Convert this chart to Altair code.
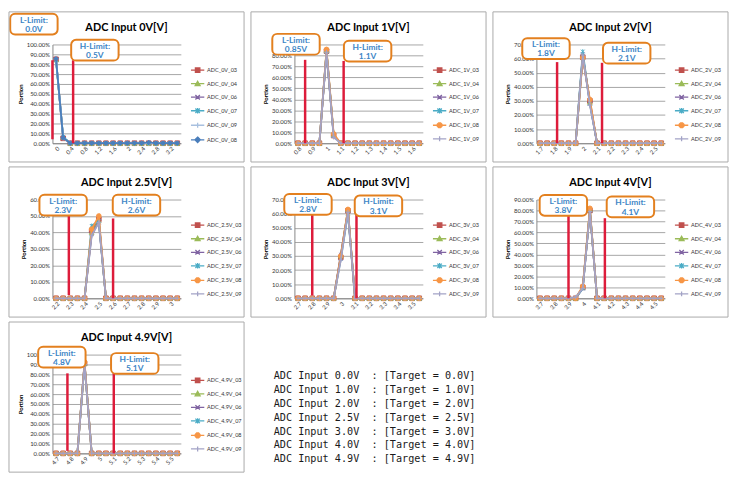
import altair as alt
import pandas as pd

W, H = 130, 100

titles = ["ADC Input 0V[V]", "ADC Input 1V[V]", "ADC Input 2V[V]", "ADC Input 2.5V[V]",
          "ADC Input 3V[V]", "ADC Input 4V[V]", "ADC Input 4.9V[V]"]
tags = ["0V", "1V", "2V", "2.5V", "3V", "4V", "4.9V"]

cats = [
    [0, 0.2, 0.4, 0.6, 0.8, 1.0, 1.2, 1.4, 1.6, 1.8, 2.0, 2.2, 2.4, 2.6, 2.8, 3.0, 3.2, 3.4],
    [0.8, 0.85, 0.9, 0.95, 1.0, 1.05, 1.1, 1.15, 1.2, 1.25, 1.3, 1.35, 1.4, 1.45, 1.5, 1.55, 1.6, 1.65],
    [1.7, 1.75, 1.8, 1.85, 1.9, 1.95, 2.0, 2.05, 2.1, 2.15, 2.2, 2.25, 2.3, 2.35, 2.4, 2.45, 2.5, 2.55],
    [2.2, 2.25, 2.3, 2.35, 2.4, 2.45, 2.5, 2.55, 2.6, 2.65, 2.7, 2.75, 2.8, 2.85, 2.9, 2.95, 3.0, 3.05],
    [2.7, 2.75, 2.8, 2.85, 2.9, 2.95, 3.0, 3.05, 3.1, 3.15, 3.2, 3.25, 3.3, 3.35, 3.4, 3.45, 3.5, 3.55],
    [3.7, 3.75, 3.8, 3.85, 3.9, 3.95, 4.0, 4.05, 4.1, 4.15, 4.2, 4.25, 4.3, 4.35, 4.4, 4.45, 4.5, 4.55],
    [4.7, 4.75, 4.8, 4.85, 4.9, 4.95, 5.0, 5.05, 5.1, 5.15, 5.2, 5.25, 5.3, 5.35, 5.4, 5.45, 5.5, 5.55],
]
tick_labels = [
    [0, 0.4, 0.8, 1.2, 1.6, 2, 2.4, 2.8, 3.2],
    [0.8, 0.9, 1, 1.1, 1.2, 1.3, 1.4, 1.5, 1.6],
    [1.7, 1.8, 1.9, 2, 2.1, 2.2, 2.3, 2.4, 2.5],
    [2.2, 2.3, 2.4, 2.5, 2.6, 2.7, 2.8, 2.9, 3],
    [2.7, 2.8, 2.9, 3, 3.1, 3.2, 3.3, 3.4, 3.5],
    [3.7, 3.8, 3.9, 4, 4.1, 4.2, 4.3, 4.4, 4.5],
    [4.7, 4.8, 4.9, 5, 5.1, 5.2, 5.3, 5.4, 5.5],
]
y_max = [100, 90, 70, 60, 70, 90, 100]

order_0v = ["03", "04", "06", "07", "09", "08"]
order_main = ["03", "04", "06", "07", "08", "09"]

# Portion (%) per series, one value per category
values = [
    {  # 0V
        "03": [85, 5, 0, 0, 0, 0, 0, 0, 0, 0, 0, 0, 0, 0, 0, 0, 0, 0],
        "04": [84.5, 6, 0, 0, 0, 0, 0, 0, 0, 0, 0, 0, 0, 0, 0, 0, 0, 0],
        "06": [85, 5.5, 0, 0, 0, 0, 0, 0, 0, 0, 0, 0, 0, 0, 0, 0, 0, 0],
        "07": [84, 6.5, 0, 0, 0, 0, 0, 0, 0, 0, 0, 0, 0, 0, 0, 0, 0, 0],
        "09": [85.5, 5, 0, 0, 0, 0, 0, 0, 0, 0, 0, 0, 0, 0, 0, 0, 0, 0],
        "08": [85.5, 5.5, 0, 0, 0, 0, 0, 0, 0, 0, 0, 0, 0, 0.8, 0, 0, 0, 0],
    },
    {  # 1V
        "03": [0, 0, 0, 0, 84, 7, 0, 0, 0, 0, 0, 0, 0, 0, 0, 0, 0, 0],
        "04": [0, 0, 0, 0, 84.5, 7.5, 0, 0, 0, 0, 0, 0, 0, 0, 0, 0, 0, 0],
        "06": [0, 0, 0, 0, 83, 6.5, 0, 0, 0, 0, 0, 0, 0, 0, 0, 0, 0, 0],
        "07": [0, 0, 0, 0, 84, 7, 0, 0, 0, 0, 0, 0, 0, 0, 0, 0, 0, 0],
        "08": [0, 0, 0, 0, 85.5, 8.5, 0, 0, 0, 0, 0, 0, 0, 0, 0, 0, 0, 0],
        "09": [0, 0, 0, 0, 83, 5.5, 0, 0, 0, 0, 0, 0, 0, 0, 0, 0, 0, 0],
    },
    {  # 2V
        "03": [0, 0, 0, 0, 0, 0, 61, 30, 0, 0, 0, 0, 0, 0, 0, 0, 0, 0],
        "04": [0, 0, 0, 0, 0, 0, 62, 29, 0, 0, 0, 0, 0, 0, 0, 0, 0, 0],
        "06": [0, 0, 0, 0, 0, 0, 63, 28, 0, 0, 0, 0, 0, 0, 0, 0, 0, 0],
        "07": [0, 0, 0, 0, 0, 0, 65, 28, 0, 0, 0, 0, 0, 0, 0, 0, 0, 0],
        "08": [0, 0, 0, 0, 0, 0, 60.5, 31, 0, 0, 0, 0, 0, 0, 0, 0, 0, 0],
        "09": [0, 0, 0, 0, 0, 0, 62.5, 27, 0, 0, 0, 0, 0, 0, 0, 0, 0, 0],
    },
    {  # 2.5V
        "03": [0, 0, 0, 0, 0, 41, 48, 0, 0, 0, 0, 0, 0, 0, 0, 0, 0, 0],
        "04": [0, 0, 0, 0, 0, 40, 47, 0, 0, 0, 0, 0, 0, 0, 0, 0, 0, 0],
        "06": [0, 0, 0, 0, 0, 39, 46, 0, 0, 0, 0, 0, 0, 0, 0, 0, 0, 0],
        "07": [0, 0, 0, 0, 0, 44, 47, 0, 0, 0, 0, 0, 0, 0, 0, 0, 0, 0],
        "08": [0, 0, 0, 0, 0, 42, 50, 0, 0, 0, 0, 0, 0, 0, 0, 0, 0, 0],
        "09": [0, 0, 0, 0, 0, 38, 46, 0, 0, 0, 0, 0, 0, 0, 0, 0, 0, 0],
    },
    {  # 3V
        "03": [0, 0, 0, 0, 0, 0, 29, 62, 0, 0, 0, 0, 0, 0, 0, 0, 0, 0],
        "04": [0, 0, 0, 0, 0, 0, 30, 63, 0, 0, 0, 0, 0, 0, 0, 0, 0, 0],
        "06": [0, 0, 0, 0, 0, 0, 31, 62, 0, 0, 0, 0, 0, 0, 0, 0, 0, 0],
        "07": [0, 0, 0, 0, 0, 0, 28, 60, 0, 0, 0, 0, 0, 0, 0, 0, 0, 0],
        "08": [0, 0, 0, 0, 0, 0, 30, 63, 0, 0, 0, 0, 0, 0, 0, 0, 0, 0],
        "09": [0, 0, 0, 0, 0, 0, 27, 61, 0, 0, 0, 0, 0, 0, 0, 0, 0, 0],
    },
    {  # 4V
        "03": [0, 0, 0, 0, 0, 0, 10, 80, 0, 0, 0, 0, 0, 0, 0, 0, 0, 0],
        "04": [0, 0, 0, 0, 0, 0, 10, 81, 0, 0, 0, 0, 0, 0, 0, 0, 0, 0],
        "06": [0, 0, 0, 0, 0, 0, 9, 80, 0, 0, 0, 0, 0, 0, 0, 0, 0, 0],
        "07": [0, 0, 0, 0, 0, 0, 9, 80, 0, 0, 0, 0, 0, 0, 0, 0, 0, 0],
        "08": [0, 0, 0, 0, 0, 0, 11, 82, 0, 0, 0, 0, 0, 0, 0, 0, 0, 0],
        "09": [0, 0, 0, 0, 0, 1, 9, 79, 0, 0, 0, 0, 0, 0, 0, 0, 0, 0],
    },
    {  # 4.9V
        "03": [0, 0, 0, 0, 91, 0, 0, 0, 0, 0, 0, 0, 0, 0, 0, 0, 0, 0],
        "04": [0, 0, 0, 0, 91, 0, 0, 0, 0, 0, 0, 0, 0, 0, 0, 0, 0, 0],
        "06": [0, 0, 0, 0, 92, 0, 0, 0, 0, 0, 0, 0, 0, 0, 0, 0, 0, 0],
        "07": [0, 0, 0, 0, 91, 0, 0, 0, 0, 0, 0, 0, 0, 0, 0, 0, 0, 0],
        "08": [0, 0, 0, 0, 92.5, 0, 0, 0, 0, 0, 0, 0, 0, 0, 0, 0, 0, 0],
        "09": [0, 0, 0, 0, 90, 0, 0, 0, 0, 0, 0, 0, 0, 0, 0, 0, 0, 0],
    },
]

l_text = ["0.0V", "0.85V", "1.8V", "2.3V", "2.8V", "3.8V", "4.8V"]
h_text = ["0.5V", "1.1V", "2.1V", "2.6V", "3.1V", "4.1V", "5.1V"]
l_line_x = [-0.1, 0.85, 1.82, 2.29, 2.8, 3.9, 4.78]
h_line_x = [0.48, 1.12, 2.135, 2.6, 3.11, 4.155, 5.105]
l_line_top = [84, 76, 57.5, 52, 60, 76, 81]
l_line_bot = [4, 0, 0, 2, 2, 0, 2.5]
h_line_top = [84, 75, 57, 48.5, 60, 73, 89]
h_line_bot = [0, 0, 0, 0, 0, 0, 0]
l_box_x = [-0.62, 0.786, 1.742, 2.25, 2.77, 3.864, 4.741]
l_box_y = [120.7, 90.2, 67.1, 56.6, 66.6, 84.7, 97.4]
h_box_x = [1.09, 1.288, 2.308, 2.764, 3.264, 4.334, 5.252]
h_box_y = [94.2, 83.9, 63.8, 56.6, 65.5, 83.3, 91.0]

inputs = ["0.0", "1.0", "2.0", "2.5", "3.0", "4.0", "4.9"]
targets = ["0.0", "1.0", "2.0", "2.5", "3.0", "4.0", "4.9"]

# ---------- styles ----------
colors_main = {"03": "#C0504D", "04": "#9BBB59", "06": "#8064A2", "07": "#4BACC6",
               "08": "#F79646", "09": "#A3A3C6"}
colors_0v = dict(colors_main, **{"08": "#4A7EBB", "09": "#A8C0DF"})

X_PATH = "M-0.8,-0.8L0.8,0.8M-0.8,0.8L0.8,-0.8"
STAR_PATH = "M-0.8,-0.8L0.8,0.8M-0.8,0.8L0.8,-0.8M0,-1L0,1"
PLUS_PATH = "M-1,0L1,0M0,-1L0,1"
plot_shapes = {"03": "square", "04": "triangle-up", "06": X_PATH, "07": STAR_PATH,
               "08": "circle", "09": PLUS_PATH}
LINE = "M-1.35,0L1.35,0"
leg_shapes = {
    "03": LINE + "M-0.45,-0.45L0.45,-0.45L0.45,0.45L-0.45,0.45Z",
    "04": LINE + "M0,-0.5L0.5,0.4L-0.5,0.4Z",
    "06": LINE + "M-0.45,-0.45L0.45,0.45M-0.45,0.45L0.45,-0.45",
    "07": LINE + "M-0.45,-0.45L0.45,0.45M-0.45,0.45L0.45,-0.45M0,-0.55L0,0.55",
    "08": LINE + "M-0.48,-0.2L-0.2,-0.48L0.2,-0.48L0.48,-0.2L0.48,0.2L0.2,0.48L-0.2,0.48L-0.48,0.2Z",
    "09": LINE + "M0,-0.5L0,0.5",
}
leg_diamond = LINE + "M0,-0.55L0.55,0L0,0.55L-0.55,0Z"

RED = "#DD1C3B"
ORANGE = "#E3801F"
BLUE = "#3D86C6"
FONT = "Lato"


def panel(i):
    tag = tags[i]
    xs = cats[i]
    half = (xs[1] - xs[0]) / 2
    xscale = alt.Scale(domain=[xs[0] - half, xs[-1] + half], nice=False, zero=False)
    yscale = alt.Scale(domain=[0, y_max[i]], nice=False, zero=True)
    order = order_0v if i == 0 else order_main
    cmap = colors_0v if i == 0 else colors_main

    xaxis = alt.Axis(values=tick_labels[i], format="~g", labelAngle=-45, labelFontSize=6,
                     labelFont=FONT, labelColor="#333", labelPadding=2, labelOverlap=False,
                     labelFlush=False, grid=False, ticks=False, domainColor="#868686",
                     title=None)
    yaxis = alt.Axis(values=list(range(0, y_max[i] + 1, 10)),
                     labelExpr="format(datum.value / 100, '.2%')", labelFontSize=6,
                     labelFont=FONT, labelColor="#333", labelPadding=3, labelFlush=False,
                     labelOverlap=False, grid=True, gridColor="#a6a6a6", gridWidth=1,
                     ticks=False, domainColor="#868686", title="Portion", titleFont=FONT,
                     titleFontSize=6, titleFontWeight="bold", titleColor="#000",
                     titlePadding=3)

    def X(field):
        return alt.X(field, scale=xscale, axis=xaxis)

    def Y(field):
        return alt.Y(field, scale=yscale, axis=yaxis)

    one = pd.DataFrame({"k": [0]})
    frame = alt.Chart(one).mark_rect(filled=False, fill="transparent", stroke="#a9a9a9",
                                     strokeWidth=1).encode(
        x=alt.value(-44), x2=alt.value(W + 64), y=alt.value(-33), y2=alt.value(H + 19))
    title = alt.Chart(one).mark_text(text=titles[i], font=FONT, fontSize=11,
                                     fontWeight="bold", color="#000", align="center",
                                     baseline="middle").encode(
        x=alt.value(W / 2 + 10), y=alt.value(-17))
    layers = []

    for s in order:
        df = pd.DataFrame({"x": xs, "v": values[i][s]})
        col = cmap[s]
        shp = plot_shapes[s]
        if i == 0 and s == "08":
            shp = "diamond"
        base = alt.Chart(df).encode(x=X("x:Q"), y=Y("v:Q"))
        layers.append(base.mark_line(color=col, strokeWidth=1.8))
        layers.append(base.mark_point(shape=shp, filled=True, fill=col, stroke=col,
                                      size=22, strokeWidth=1, opacity=1))

    rdf = pd.DataFrame({"x": [l_line_x[i], h_line_x[i]],
                        "top": [l_line_top[i], h_line_top[i]],
                        "bot": [l_line_bot[i], h_line_bot[i]]})
    rules = alt.Chart(rdf).mark_rule(color=RED, strokeWidth=2.5).encode(
        x=X("x:Q"), y=Y("top:Q"), y2="bot:Q")
    layers.append(rules)

    bdf = pd.DataFrame({"bx": [l_box_x[i], h_box_x[i]], "by": [l_box_y[i], h_box_y[i]],
                        "txt": ["L-Limit:\n" + l_text[i], "H-Limit:\n" + h_text[i]]})
    boxes = alt.Chart(bdf).mark_rect(fill="white", stroke=ORANGE, strokeWidth=2,
                                     cornerRadius=5, xOffset=-24, x2Offset=24,
                                     yOffset=-10.5, y2Offset=10.5).encode(
        x=X("bx:Q"), x2="bx:Q", y=Y("by:Q"), y2="by:Q")
    btxt = alt.Chart(bdf).mark_text(lineBreak="\n", font=FONT, fontSize=8.5,
                                    fontWeight="bold", color=BLUE, align="center",
                                    baseline="middle", lineHeight=9.5, dy=-4.5).encode(
        x=X("bx:Q"), y=Y("by:Q"), text="txt:N")
    layers += [boxes, btxt, frame, title]

    names = [f"ADC_{tag}_{s}" for s in order]
    cols = [cmap[s] for s in order]
    lp = [leg_shapes[s] for s in order]
    if i == 0:
        lp[order.index("08")] = leg_diamond
    leg = alt.Legend(title=None, orient="none", legendX=W + 11, legendY=20,
                     symbolSize=100, symbolStrokeWidth=1.3, labelFontSize=5.6,
                     labelFont=FONT, labelColor="#333", rowPadding=2.7, labelOffset=3.5,
                     padding=0, labelLimit=80)
    ldf = pd.DataFrame({"s": names})
    legend_layer = alt.Chart(ldf).transform_filter("false").mark_point(
        filled=True, size=100, strokeWidth=1.3, opacity=1).encode(
        fill=alt.Fill("s:N", scale=alt.Scale(domain=names, range=cols), legend=leg),
        stroke=alt.Stroke("s:N", scale=alt.Scale(domain=names, range=cols), legend=leg),
        shape=alt.Shape("s:N", scale=alt.Scale(domain=names, range=lp), legend=leg))
    layers.append(legend_layer)

    return alt.layer(*layers).properties(width=W, height=H)


labels = [f"ADC Input {a}V\u00a0\u00a0: [Target = {t}V]" for a, t in zip(inputs, targets)]
tdf = pd.DataFrame({"row": list(range(len(labels))), "label": labels})
text_chart = alt.Chart(tdf).mark_text(
    align="left", baseline="middle", font="DejaVu Sans Mono", fontSize=10.3,
    color="#1a1a1a").encode(
    x=alt.value(0),
    y=alt.Y("row:O", axis=None, scale=alt.Scale(range=[22, 106], padding=0)),
    text="label:N").properties(width=210, height=112)

RES = dict(fill="independent", stroke="independent", shape="independent")
panels = [panel(i) for i in range(7)]
row1 = alt.hconcat(panels[0], panels[1], panels[2], spacing=5).resolve_scale(**RES)
row2 = alt.hconcat(panels[3], panels[4], panels[5], spacing=5).resolve_scale(**RES)
row3 = alt.hconcat(panels[6], text_chart, spacing=29).resolve_scale(**RES)

chart = alt.vconcat(row1, row2, row3, spacing=3).resolve_scale(**RES).properties(
    padding=0, background="white").configure_view(stroke=None)

chart.save("out.html", embed_options={"renderer": "svg", "actions": False})
